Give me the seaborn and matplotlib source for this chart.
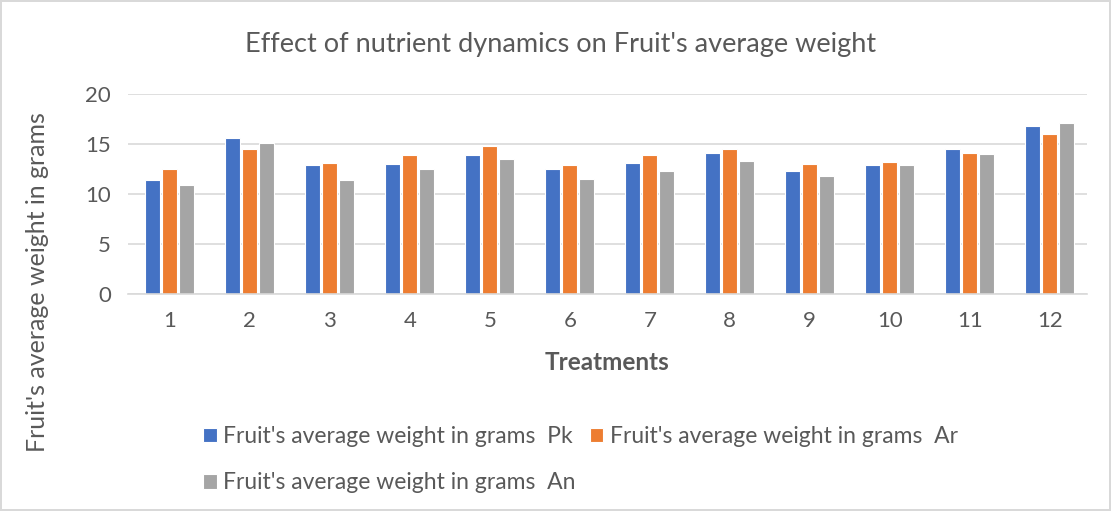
import matplotlib
matplotlib.use("Agg")
import matplotlib.pyplot as plt
import seaborn as sns
import pandas as pd

# Values
treatments = [str(i) for i in range(1, 13)]
pk = [11.4, 15.6, 12.9, 13.0, 13.9, 12.5, 13.1, 14.1, 12.3, 12.9, 14.5, 16.8]
ar = [12.5, 14.5, 13.1, 13.9, 14.8, 12.9, 13.9, 14.5, 13.0, 13.2, 14.1, 16.0]
an = [10.9, 15.1, 11.4, 12.5, 13.5, 11.5, 12.3, 13.3, 11.8, 12.9, 14.0, 17.1]
series_names = ["Fruit's average weight in grams  Pk",
                "Fruit's average weight in grams  Ar",
                "Fruit's average weight in grams  An"]
colors = ["#4472C4", "#ED7D31", "#A5A5A5"]
yticks = [0, 5, 10, 15, 20]

rows = []
for name, vals in zip(series_names, [pk, ar, an]):
    for t, v in zip(treatments, vals):
        rows.append({"Treatment": t, "Series": name, "Weight": v})
df = pd.DataFrame(rows)

sns.set_style("white")
plt.rcParams['font.family'] = ['Lato', 'DejaVu Sans']
text_color = "#595959"

fig = plt.figure(figsize=(11.11, 5.11), dpi=100)
fig.patch.set_edgecolor("#D9D9D9")
fig.patch.set_linewidth(1.5)
ax = fig.add_axes([0.115, 0.4247, 0.863, 0.3913])

sns.barplot(data=df, x="Treatment", y="Weight", hue="Series", order=treatments,
            hue_order=series_names, palette=colors, saturation=1, width=0.64, gap=0.13,
            edgecolor="white", linewidth=0.8, ax=ax, legend=True)

ax.set_ylim(0, 20)
ax.set_xlim(-0.525, 11.46)
ax.set_yticks(yticks)
ax.set_yticklabels([str(v) for v in yticks])
ax.yaxis.grid(True, color="#D9D9D9", linewidth=1.2)
ax.set_axisbelow(True)
for side in ["top", "right", "left"]:
    ax.spines[side].set_visible(False)
ax.spines["bottom"].set_color("#D9D9D9")
ax.spines["bottom"].set_linewidth(1.2)
ax.tick_params(axis="both", length=0, labelsize=16, colors=text_color)
ax.tick_params(axis="x", pad=12)
ax.tick_params(axis="y", pad=12)

ax.set_xlabel("Treatments", fontsize=17.5, fontweight="bold", color=text_color, va="center")
ax.xaxis.set_label_coords(0.5, -0.345)
ax.set_ylabel("Fruit's average weight in grams", fontsize=18, color=text_color, va="center")
ax.yaxis.set_label_coords(-0.094, 0.06)
fig.text(0.505, 0.912, "Effect of nutrient dynamics on Fruit's average weight",
         ha="center", va="center", fontsize=19.5, color=text_color)

handles, labels = ax.get_legend_handles_labels()
ax.legend_.remove()
order = [0, 2, 1]  # column-major fill: Pk, Ar on row one, An on row two
fig.legend([handles[i] for i in order], [labels[i] for i in order], ncol=2,
           loc="upper left", bbox_to_anchor=(0.1825, 0.166), borderaxespad=0, borderpad=0,
           frameon=False, fontsize=16.5, labelcolor=text_color, handlelength=0.6,
           handleheight=0.6, handletextpad=0.3, columnspacing=0.6, labelspacing=1.1)

fig.savefig("out.png", dpi=100, edgecolor=fig.get_edgecolor())
